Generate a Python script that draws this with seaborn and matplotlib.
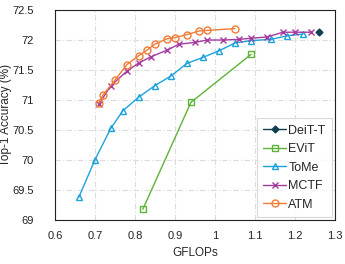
import numpy as np
import pandas as pd
import matplotlib
matplotlib.use("Agg")
import matplotlib.pyplot as plt
import seaborn as sns

# GFLOPs / top-1 accuracy
deit_x = [1.26]
deit_y = [72.14]

evit_x = [0.82, 0.94, 1.09]
evit_y = [69.18, 70.96, 71.76]

tome_x = [0.66, 0.70, 0.74, 0.77, 0.81, 0.85, 0.89, 0.93, 0.97, 1.01, 1.05, 1.09, 1.14, 1.18, 1.22]
tome_y = [69.38, 70.00, 70.53, 70.82, 71.05, 71.24, 71.40, 71.61, 71.71, 71.82, 71.95, 71.99, 72.01, 72.07, 72.10]

mctf_x = [0.71, 0.74, 0.78, 0.81, 0.84, 0.88, 0.91, 0.95, 0.98, 1.02, 1.06, 1.09, 1.13, 1.17, 1.20, 1.24]
mctf_y = [70.93, 71.24, 71.48, 71.62, 71.72, 71.83, 71.93, 71.96, 72.00, 72.00, 72.01, 72.03, 72.05, 72.13, 72.13, 72.13]

atm_x = [0.71, 0.72, 0.75, 0.78, 0.81, 0.83, 0.85, 0.88, 0.90, 0.93, 0.96, 0.98, 1.05]
atm_y = [70.95, 71.08, 71.33, 71.59, 71.74, 71.83, 71.93, 72.02, 72.04, 72.09, 72.15, 72.16, 72.19]

sns.set_style("white")
plt.rcParams['font.family'] = ['Liberation Sans', 'DejaVu Sans']

fig = plt.figure(figsize=(3.45, 2.64), dpi=100)
ax = fig.add_axes([0.159, 0.167, 0.812, 0.795])

series = [
    ("DeiT-T", deit_x, deit_y, "#123f50", "D", True),
    ("EViT", evit_x, evit_y, "#5cb338", "s", False),
    ("ToMe", tome_x, tome_y, "#1ea2dc", "^", False),
    ("MCTF", mctf_x, mctf_y, "#a53a9e", "x", False),
    ("ATM", atm_x, atm_y, "#f07c38", "o", False),
]

for name, xs, ys, col, mk, filled in series:
    df = pd.DataFrame({"x": xs, "y": ys})
    sns.lineplot(data=df, x="x", y="y", ax=ax, sort=False, color=col,
                 marker=mk, markersize=3.5 if filled else 5,
                 markerfacecolor=col if filled else "none",
                 markeredgecolor=col, markeredgewidth=1.0,
                 linewidth=1.0, label=name)

ax.set_xlim(0.6, 1.3)
ax.set_ylim(69, 72.5)
ax.set_xticks(np.arange(0.6, 1.31, 0.1))
ax.set_xticklabels(["0.6", "0.7", "0.8", "0.9", "1", "1.1", "1.2", "1.3"])
ax.set_yticks(np.arange(69, 72.51, 0.5))
ax.set_yticklabels(["69", "69.5", "70", "70.5", "71", "71.5", "72", "72.5"])
ax.tick_params(axis="x", length=0, labelsize=8, pad=8, colors="#222222")
ax.tick_params(axis="y", length=0, labelsize=8, pad=15, colors="#222222")
ax.grid(True, linestyle=(0, (5, 2, 1, 2)), color="#dcdcdc", linewidth=0.8)
for s in ax.spines.values():
    s.set_color("#222222")
    s.set_linewidth(0.8)
ax.set_xlabel("GFLOPs", fontsize=8.5)
ax.set_ylabel("Top-1 Accuracy (%)", fontsize=8.5)
ax.xaxis.set_label_coords(0.5, -0.13)
ax.yaxis.set_label_coords(-0.152, 0.5)

leg = ax.legend(loc="lower right", fontsize=9, frameon=True, fancybox=False,
                edgecolor="#d0d0d0", handlelength=1.8, handletextpad=0.2,
                borderaxespad=0.25, labelspacing=0.52, borderpad=0.5)
leg.get_frame().set_linewidth(0.8)

fig.savefig("out.png", dpi=100)
